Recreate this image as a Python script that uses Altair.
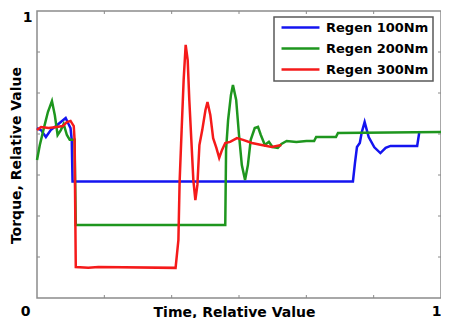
import altair as alt
import pandas as pd

series_names = ["Regen 100Nm", "Regen 200Nm", "Regen 300Nm"]
series_colors = ["#1414f0", "#1e961e", "#f51a1a"]

t100 = [0.000, 0.010, 0.022, 0.034, 0.047, 0.059, 0.071, 0.078, 0.083, 0.086, 0.088,
        0.782, 0.787, 0.792, 0.799, 0.804, 0.811, 0.821, 0.835, 0.850, 0.863, 0.875,
        0.905, 0.941, 0.946]
v100 = [0.592, 0.585, 0.561, 0.585, 0.599, 0.613, 0.627, 0.606, 0.592, 0.551, 0.406,
        0.406, 0.470, 0.526, 0.540, 0.578, 0.613, 0.561, 0.525, 0.505, 0.523, 0.530,
        0.530, 0.530, 0.575]

t200 = [0.000, 0.007, 0.017, 0.027, 0.037, 0.044, 0.051, 0.059, 0.066, 0.074, 0.081,
        0.093, 0.096, 0.466, 0.468, 0.473, 0.480, 0.485, 0.493, 0.500, 0.507, 0.515,
        0.522, 0.529, 0.539, 0.547, 0.554, 0.564, 0.574, 0.583, 0.596, 0.605, 0.618,
        0.642, 0.667, 0.686, 0.691, 0.740, 0.745, 1.000]
v200 = [0.481, 0.533, 0.592, 0.648, 0.686, 0.638, 0.568, 0.585, 0.606, 0.568, 0.551,
        0.551, 0.254, 0.254, 0.516, 0.620, 0.707, 0.742, 0.690, 0.568, 0.463, 0.411,
        0.463, 0.551, 0.592, 0.596, 0.568, 0.533, 0.544, 0.526, 0.523, 0.537, 0.547,
        0.544, 0.547, 0.547, 0.561, 0.561, 0.575, 0.578]

t300 = [0.000, 0.010, 0.029, 0.049, 0.064, 0.074, 0.083, 0.091, 0.093, 0.096, 0.127,
        0.152, 0.343, 0.350, 0.353, 0.358, 0.363, 0.368, 0.373, 0.377, 0.382, 0.387,
        0.392, 0.397, 0.402, 0.409, 0.417, 0.422, 0.429, 0.436, 0.444, 0.451, 0.458,
        0.466, 0.478, 0.495, 0.510, 0.532, 0.556, 0.581, 0.605]
v300 = [0.585, 0.596, 0.592, 0.596, 0.599, 0.613, 0.617, 0.599, 0.551, 0.108, 0.105,
        0.108, 0.105, 0.202, 0.404, 0.585, 0.760, 0.882, 0.829, 0.690, 0.551, 0.411,
        0.341, 0.394, 0.533, 0.585, 0.655, 0.683, 0.638, 0.557, 0.523, 0.488, 0.516,
        0.540, 0.544, 0.557, 0.551, 0.540, 0.533, 0.526, 0.533]

x_tick_values = [1/6, 2/6, 3/6, 4/6, 5/6]
y_tick_values = [1/7, 2/7, 3/7, 4/7, 5/7, 6/7]
x_label_values = [0, 1]
y_label_values = [1]

rows = []
for name, ts, vs in zip(series_names, [t100, t200, t300], [v100, v200, v300]):
    for i, (t, v) in enumerate(zip(ts, vs)):
        rows.append({"t": t, "v": v, "series": name, "idx": i})
df = pd.DataFrame(rows)

W, H = 404, 287
FONT = "DejaVu Sans"
TICK = "#8a8a8a"

xscale = alt.Scale(domain=[0, 1], nice=False, zero=False)
yscale = alt.Scale(domain=[0, 1], nice=False, zero=False)

xaxis = alt.Axis(
    values=x_label_values, labelExpr="datum.value == 0 ? '0' : '1'",
    grid=False, ticks=False, tickSize=0, domain=False,
    labelFont=FONT, labelFontWeight="bold", labelFontSize=14, labelColor="black",
    labelBaseline="alphabetic", labelPadding=17, labelFlush=False,
    labelAlign={"condition": {"test": "datum.value > 0.5", "value": "right"}, "value": "center"},
    labelOffset={"condition": {"test": "datum.value < 0.5", "value": -12}, "value": 0},
    title="Time, Relative Value", titleFont=FONT, titleFontWeight="bold",
    titleFontSize=14, titleColor="black", titleBaseline="alphabetic",
    titleX=197, titleY=18,
)
yaxis = alt.Axis(
    values=y_label_values, labelExpr="'1'",
    grid=False, ticks=False, tickSize=0, domain=False,
    labelFont=FONT, labelFontWeight="bold", labelFontSize=14, labelColor="black",
    labelBaseline="alphabetic", labelPadding=5, labelOffset=10, labelFlush=False,
    title="Torque, Relative Value", titleFont=FONT, titleFontWeight="bold",
    titleFontSize=14, titleColor="black", titleBaseline="alphabetic",
    titleX=-17, titleY=144, titleAngle=270,
)

lines = alt.Chart(df).mark_line(strokeWidth=2.5).encode(
    x=alt.X("t:Q", scale=xscale, axis=xaxis),
    y=alt.Y("v:Q", scale=yscale, axis=yaxis),
    color=alt.Color(
        "series:N",
        scale=alt.Scale(domain=series_names, range=series_colors),
        legend=alt.Legend(
            orient="none", legendX=237, legendY=6, title=None,
            symbolType="M-4,0H4", symbolSize=90, symbolStrokeWidth=2.5,
            symbolOffset=16,
            labelFont=FONT, labelFontWeight="bold", labelFontSize=13,
            labelColor="black", labelOffset=19, padding=4, rowPadding=7,
            strokeColor="#5a5a5a", fillColor="white",
        ),
    ),
    order=alt.Order("idx:Q"),
)

xt = pd.DataFrame({"x": x_tick_values})
yt = pd.DataFrame({"y": y_tick_values})

xt_bottom = alt.Chart(xt).mark_rule(color=TICK, strokeWidth=1).encode(
    x=alt.X("x:Q", scale=xscale), y=alt.value(H), y2=alt.value(H - 3))
xt_top = alt.Chart(xt).mark_rule(color=TICK, strokeWidth=1).encode(
    x=alt.X("x:Q", scale=xscale), y=alt.value(0), y2=alt.value(3))
yt_left = alt.Chart(yt).mark_rule(color=TICK, strokeWidth=1).encode(
    y=alt.Y("y:Q", scale=yscale), x=alt.value(0), x2=alt.value(3))
yt_right = alt.Chart(yt).mark_rule(color=TICK, strokeWidth=1).encode(
    y=alt.Y("y:Q", scale=yscale), x=alt.value(W - 3), x2=alt.value(W))

chart = alt.layer(xt_bottom, xt_top, yt_left, yt_right, lines).properties(
    width=W, height=H,
    autosize=alt.AutoSizeParams(type="none"),
    padding={"left": 29, "top": 3, "right": 0, "bottom": 20},
    background="white",
).configure_view(stroke="#8c8c8c", strokeWidth=1.5).configure_legend(strokeWidth=1.5)

chart.save("out.html", embed_options={"renderer": "svg", "actions": False})
